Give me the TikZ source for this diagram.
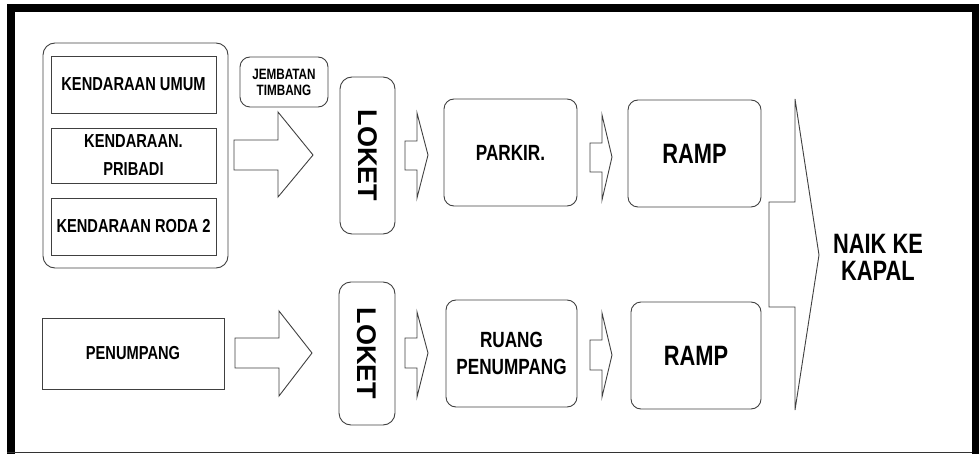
\documentclass[tikz,border=0pt]{standalone}
\usepackage{fontspec}
\setmainfont[FakeStretch=0.78]{Liberation Sans}
\newfontfamily\plainsans{Liberation Sans}
\newcommand{\vehfont}{\bfseries\fontsize{18.8pt}{28pt}\selectfont}
\newcommand{\midfont}{\bfseries\fontsize{22pt}{27pt}\selectfont}
\newcommand{\bigfont}{\bfseries\fontsize{28pt}{27pt}\selectfont}
\usetikzlibrary{positioning}

\begin{document}
\begin{tikzpicture}[x=1pt, y=-1pt,
  box/.style={draw=black!75, line width=0.9pt, inner sep=0pt, align=center},
  rbox/.style={box, rounded corners=10pt},
  fatarrow/.style={draw=black!75, line width=0.9pt, line join=miter, fill=white}]
  \useasboundingbox (0,0) rectangle (979,454);

  % frame
  \fill[black] (7,4) rectangle (15,454);
  \fill[black] (7,4) rectangle (979,12);
  \fill[black] (972,4) rectangle (979,454);
  \draw[black!80, line width=1.2pt] (7,452.5) -- (972,452.5);

  % kendaraan
  \node[rbox, rounded corners=12pt, minimum width=185pt, minimum height=225pt] (grp) at (135.5,155.5) {};
  \node[box, font=\vehfont, minimum width=165pt, minimum height=57pt] (kumum) at (133.5,84.5) {KENDARAAN UMUM};
  \node[box, font=\vehfont, minimum width=165pt, minimum height=55pt] (kpribadi) at (133.5,155.5) {KENDARAAN.\\PRIBADI};
  \node[box, font=\vehfont, minimum width=165pt, minimum height=57pt] (kroda) at (133.5,226.5) {KENDARAAN RODA 2};
  \node[rbox, font=\bfseries\fontsize{15pt}{16pt}\selectfont, minimum width=88pt, minimum height=50pt] (jembatan) at (284,82) {JEMBATAN\\TIMBANG};

  % penumpang
  \node[box, font=\vehfont, minimum width=182pt, minimum height=71pt] (penumpang) at (133,353.5) {PENUMPANG};

  % loket
  \node[rbox, rounded corners=12pt, rotate=-90, font=\plainsans\bfseries\fontsize{27pt}{27pt}\selectfont, minimum width=157pt, minimum height=55pt] (loket1) at (367.5,155.5) {LOKET};
  \node[rbox, rounded corners=12pt, rotate=-90, font=\plainsans\bfseries\fontsize{27pt}{27pt}\selectfont, minimum width=143pt, minimum height=56pt] (loket2) at (367,353.5) {LOKET};

  % tengah
  \node[rbox, font=\midfont, minimum width=133pt, minimum height=107pt] (parkir) at (510.5,152.5) {PARKIR.};
  \node[rbox, font=\midfont, minimum width=131pt, minimum height=107pt] (ruang) at (511.5,353.5) {RUANG\\PENUMPANG};
  \node[rbox, font=\bigfont, minimum width=133pt, minimum height=107pt] (ramp1) at (694.5,153.5) {RAMP};
  \node[rbox, font=\bigfont, minimum width=130pt, minimum height=107pt] (ramp2) at (696,355.5) {RAMP};

  \node[font=\bigfont, align=center] (naik) at (878,257) {NAIK KE\\KAPAL};

  % panah
  \draw[fatarrow] (234,140) -- (278,140) -- (278,112) -- (313,155) -- (278,197) -- (278,170) -- (234,170) -- cycle;
  \draw[fatarrow] (235,338) -- (279,338) -- (279,311) -- (312,353) -- (279,396) -- (279,368) -- (235,368) -- cycle;
  \draw[fatarrow] (405,141) -- (417,141) -- (417,113) -- (428,155) -- (417,198) -- (417,170) -- (405,170) -- cycle;
  \draw[fatarrow] (590,143) -- (602,143) -- (602,115) -- (612,157) -- (602,200) -- (602,172) -- (590,172) -- cycle;
  \draw[fatarrow] (405,338) -- (417,338) -- (417,312) -- (428,353) -- (417,397) -- (417,368) -- (405,368) -- cycle;
  \draw[fatarrow] (590,340) -- (602,340) -- (602,313) -- (612,355) -- (602,397) -- (602,370) -- (590,370) -- cycle;
  \draw[fatarrow] (769,202) -- (795,202) -- (795,99) -- (819,255) -- (795,410) -- (795,307) -- (769,307) -- cycle;
\end{tikzpicture}
\end{document}
